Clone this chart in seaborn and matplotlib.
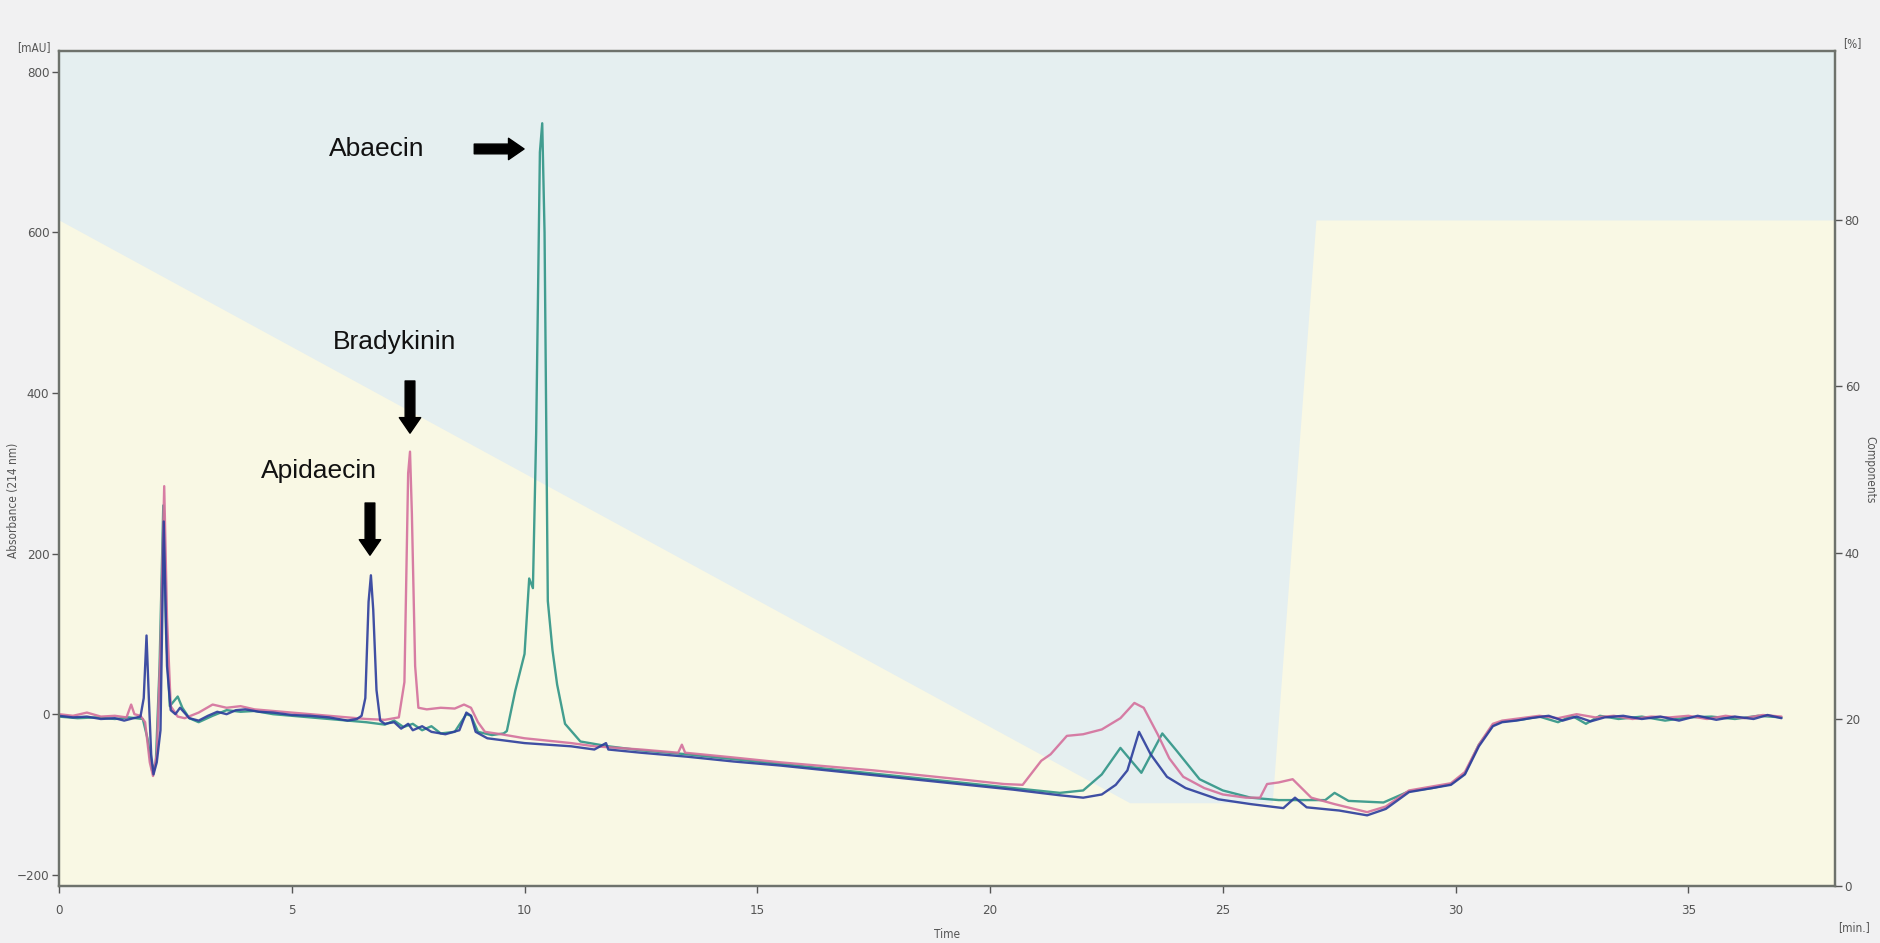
import numpy as np
import pandas as pd
import matplotlib
matplotlib.use("Agg")
import matplotlib.pyplot as plt
import seaborn as sns

# ---- chromatogram traces (time in min, absorbance in mAU) ----
blue_t = [0.0, 0.3, 0.6, 0.9, 1.2, 1.4, 1.6, 1.75, 1.82, 1.88, 1.93, 1.98, 2.03, 2.1, 2.18, 2.25, 2.32, 2.4,
          2.5, 2.6, 2.8, 3.0, 3.2, 3.4, 3.6, 3.8, 4.0, 4.3, 4.6, 5.0, 5.4, 5.8, 6.2, 6.4, 6.5, 6.58, 6.65,
          6.7, 6.75, 6.82, 6.9, 7.0, 7.2, 7.35, 7.5, 7.6, 7.8, 8.0, 8.3, 8.6, 8.75, 8.85, 8.95, 9.2, 9.6,
          10.0, 10.5, 11.0, 11.5, 11.75, 11.8, 12.5, 13.5, 14.5, 15.5, 16.5, 17.5, 18.5, 19.5, 20.5, 21.5,
          22.0, 22.4, 22.7, 22.95, 23.2, 23.45, 23.8, 24.2, 24.9, 25.6, 26.3, 26.55, 26.8, 27.5, 28.1, 28.5,
          29.0, 29.5, 29.9, 30.2, 30.5, 30.8, 31.0, 31.3, 31.6, 32.0, 32.3, 32.6, 32.9, 33.2, 33.6, 34.0,
          34.4, 34.8, 35.2, 35.6, 36.0, 36.4, 36.7, 37.0]
blue_v = [-2, -4, -3, -6, -5, -8, -5, -3, 20, 98, 20, -50, -75, -60, -20, 240, 60, 5,
          0, 8, -5, -8, -2, 3, 0, 5, 6, 3, 2, -1, -2, -4, -8, -6, -2, 20, 140,
          173, 130, 30, -8, -12, -10, -18, -12, -20, -15, -22, -25, -20, 2, -2, -22, -30, -33,
          -36, -38, -40, -44, -36, -44, -48, -53, -59, -64, -70, -76, -82, -88, -94, -101,
          -104, -100, -88, -70, -22, -50, -78, -92, -106, -112, -117, -104, -116, -120, -126, -118,
          -97, -92, -88, -75, -40, -15, -10, -8, -5, -2, -8, -3, -9, -4, -2, -6,
          -3, -8, -2, -7, -3, -6, -1, -5]

pink_t = [0.0, 0.3, 0.6, 0.9, 1.2, 1.45, 1.55, 1.62, 1.75, 1.85, 1.95, 2.02, 2.1, 2.18, 2.26, 2.32, 2.4,
          2.55, 2.7, 3.0, 3.3, 3.6, 3.9, 4.2, 4.6, 5.0, 5.4, 5.8, 6.2, 6.6, 7.0, 7.3, 7.42, 7.5, 7.54,
          7.58, 7.65, 7.72, 7.9, 8.2, 8.5, 8.7, 8.85, 9.0, 9.15, 9.5, 10.0, 10.5, 11.0, 11.5, 12.5,
          13.3, 13.38, 13.45, 14.5, 15.5, 16.5, 17.5, 18.5, 19.5, 20.3, 20.7, 21.1, 21.3, 21.65, 22.0,
          22.4, 22.8, 23.1, 23.3, 23.6, 23.85, 24.15, 24.6, 25.0, 25.5, 25.8, 25.95, 26.2, 26.5, 26.9,
          27.4, 28.1, 28.5, 29.0, 29.5, 29.9, 30.2, 30.5, 30.8, 31.0, 31.4, 31.8, 32.2, 32.6, 33.0,
          33.4, 33.8, 34.2, 34.6, 35.0, 35.4, 35.8, 36.2, 36.6, 37.0]
pink_v = [0, -2, 2, -3, -2, -4, 12, 0, -2, -10, -60, -77, -50, 80, 284, 120, 10,
          -3, -5, 2, 12, 8, 10, 6, 4, 2, 0, -2, -4, -6, -7, -4, 40, 300, 327,
          250, 60, 8, 6, 8, 7, 12, 8, -10, -22, -25, -30, -33, -36, -40, -44,
          -48, -38, -48, -54, -60, -65, -70, -76, -82, -87, -88, -58, -50, -27, -25,
          -19, -5, 14, 8, -25, -55, -78, -92, -100, -104, -104, -87, -85, -81, -104,
          -112, -122, -115, -95, -90, -86, -72, -38, -12, -8, -5, -2, -5, 0, -4,
          -2, -6, -3, -4, -2, -6, -2, -5, -1, -3]

teal_t = [0.0, 0.4, 0.8, 1.2, 1.5, 1.8, 1.9, 2.0, 2.08, 2.16, 2.24, 2.3, 2.38, 2.45, 2.55, 2.65, 2.8,
          3.0, 3.3, 3.6, 3.9, 4.2, 4.6, 5.0, 5.4, 5.8, 6.2, 6.6, 7.0, 7.2, 7.4, 7.6, 7.8, 8.0, 8.2,
          8.5, 8.75, 8.85, 9.0, 9.3, 9.55, 9.62, 9.8, 10.0, 10.1, 10.18, 10.25, 10.33, 10.38, 10.43,
          10.5, 10.6, 10.7, 10.87, 11.2, 11.8, 12.5, 13.5, 14.5, 15.5, 16.5, 17.5, 18.5, 19.5, 20.5,
          21.5, 22.0, 22.4, 22.8, 23.25, 23.7, 24.0, 24.5, 25.0, 25.6, 26.2, 27.2, 27.4, 27.7, 28.45,
          29.0, 29.5, 29.9, 30.2, 30.5, 30.8, 31.0, 31.4, 31.8, 32.2, 32.5, 32.8, 33.1, 33.5, 34.0,
          34.5, 35.0, 35.5, 36.0, 36.5, 37.0]
teal_v = [-3, -5, -4, -6, -4, -6, -30, -70, -60, 60, 260, 100, 10, 15, 22, 8, -5,
          -10, -2, 5, 3, 4, 0, -2, -4, -6, -8, -10, -13, -8, -16, -12, -20, -15, -24,
          -22, 0, -2, -22, -26, -24, -21, 29, 75, 169, 157, 350, 700, 736, 600,
          141, 80, 37, -12, -34, -40, -45, -50, -56, -62, -68, -74, -80, -86, -92,
          -98, -95, -75, -42, -73, -24, -45, -81, -95, -104, -107, -107, -98, -108, -110,
          -96, -92, -87, -74, -38, -14, -9, -7, -3, -10, -2, -12, -2, -6, -3,
          -8, -4, -3, -6, -2, -4]

# ---- solvent gradient (time in min, % component) ----
grad_t = [0.0, 23.0, 26.06, 27.0, 38.2]
grad_pct = [80, 10, 10, 80, 80]

# ---- peak labels ----
peak_names = ["Apidaecin", "Bradykinin", "Abaecin"]
peak_label_xy = [(5.59, 303), (7.2, 463), (6.83, 704)]
peak_arrow_tail = [(6.68, 263), (7.54, 415), (8.92, 704)]
peak_arrow_head = [(6.68, 198), (7.54, 350), (9.99, 704)]

x_ticks = [0, 5, 10, 15, 20, 25, 30, 35]
y_ticks = [-200, 0, 200, 400, 600, 800]
pct_ticks = [0, 20, 40, 60, 80]

sns.set_theme(style="white")
plt.rcParams["font.family"] = ["DejaVu Sans"]

df = pd.concat([
    pd.DataFrame({"Time": teal_t, "mAU": teal_v, "run": "c"}),
    pd.DataFrame({"Time": pink_t, "mAU": pink_v, "run": "b"}),
    pd.DataFrame({"Time": blue_t, "mAU": blue_v, "run": "a"}),
], ignore_index=True)
palette = {"c": "#2f9486", "b": "#d4709c", "a": "#2c3d9c"}

fig = plt.figure(figsize=(18.81, 9.43), dpi=100, facecolor="#f1f1f2")
ax = fig.add_axes([59 / 1881, 1 - 886 / 943, (1835 - 59) / 1881, (886 - 51) / 943])
ax2 = ax.twinx()
ax.set_zorder(ax2.get_zorder() + 1)
ax.patch.set_visible(False)

# gradient background on the % axis
ax2.set_facecolor("#e5eff0")
ax2.patch.set_visible(True)
ax2.fill_between(grad_t, 0, grad_pct, color="#f9f8e4", lw=0)
ax2.set_ylim(0, 100.3)
ax2.set_yticks(pct_ticks)

sns.lineplot(data=df, x="Time", y="mAU", hue="run", hue_order=["c", "b", "a"], palette=palette,
             estimator=None, sort=False, lw=1.7, alpha=0.9, legend=False, ax=ax)

ax.set_xlim(0, 38.15)
ax2.set_xlim(0, 38.15)
ax.set_ylim(-214, 826)
ax.set_xticks(x_ticks)
ax.set_yticks(y_ticks)

tick_font = dict(fontsize=9.5, color="#555555", fontstretch="condensed")
for a in (ax, ax2):
    for s in a.spines.values():
        s.set_color("#6e726c")
        s.set_linewidth(1.6)
    a.tick_params(length=5, width=1, color="#555555", labelsize=9.5, labelcolor="#555555", pad=2)
    a.grid(False)
ax.tick_params(axis="x", bottom=True, pad=8)
ax.tick_params(axis="y", left=True)
ax2.tick_params(axis="y", right=True)
for lbl in ax.get_xticklabels() + ax.get_yticklabels() + ax2.get_yticklabels():
    lbl.set_fontstretch("condensed")

ax.set_xlabel("")
ax.set_ylabel("")
ax2.set_ylabel("")

# axis titles and units
fig.text(14 / 1881, 1 - 500 / 943, "Absorbance (214 nm)", rotation=90, ha="center", va="center",
         fontsize=8.5, color="#555555", fontstretch="condensed")
fig.text(1870 / 1881, 1 - 470 / 943, "Components", rotation=270, ha="center", va="center",
         fontsize=8.5, color="#555555", fontstretch="condensed")
fig.text(947 / 1881, 1 - 935 / 943, "Time", ha="center", va="center",
         fontsize=8.5, color="#555555", fontstretch="condensed")
fig.text(34 / 1881, 1 - 48 / 943, "[mAU]", ha="center", va="center",
         fontsize=8.5, color="#555555", fontstretch="condensed")
fig.text(1852 / 1881, 1 - 44 / 943, "[%]", ha="center", va="center",
         fontsize=8.5, color="#555555", fontstretch="condensed")
fig.text(1854 / 1881, 1 - 928 / 943, "[min.]", ha="center", va="center",
         fontsize=8.5, color="#555555", fontstretch="condensed")

# peak annotations with block arrows
for name, (lx, ly), tail, head in zip(peak_names, peak_label_xy, peak_arrow_tail, peak_arrow_head):
    ax.text(lx, ly, name, ha="center", va="center", fontsize=19, color="#111111",
            family="Liberation Sans")
    ax.annotate("", xy=head, xytext=tail,
                arrowprops=dict(arrowstyle="simple,head_length=0.8,head_width=1.1,tail_width=0.5",
                                color="black", mutation_scale=14, shrinkA=0, shrinkB=0))

fig.savefig("out.png", dpi=100, facecolor=fig.get_facecolor())
